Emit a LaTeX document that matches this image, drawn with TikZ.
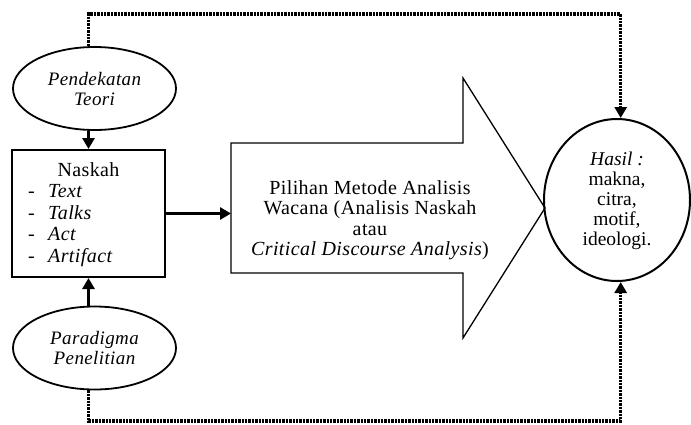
\documentclass[tikz,border=0pt]{standalone}
\usepackage{fontspec}
\setmainfont{Liberation Serif}
\newfontfamily\spaced[LetterSpace=2]{Liberation Serif}
\newfontfamily\spacedit[LetterSpace=2]{Liberation Serif}
\usetikzlibrary{arrows.meta,shapes.geometric}
\begin{document}
\begin{tikzpicture}[x=1pt,y=-1pt,
  ell/.style={draw, ellipse, line width=1.8pt, minimum width=163pt, minimum height=83pt, inner sep=0pt,
    align=center, font=\fontsize{19}{20}\spacedit\itshape},
  boxst/.style={draw, rectangle, line width=2pt, minimum width=153pt, minimum height=127pt, inner sep=0pt},
  txt/.style={inner sep=0pt, font=\fontsize{20}{20.5}\spaced},
  arr/.style={line width=3pt, -{Triangle[length=11pt,width=12pt]}},
  dotarr/.style={line width=3.4pt, dash pattern=on 2.4pt off 1pt, -{Triangle[length=11pt,width=12pt]}},
  bigarrow/.style={draw, line width=1.3pt}
]
\useasboundingbox (0,0) rectangle (691,424);

% left column
\node[ell] (pt) at (94.5,88.5) {Pendekatan\\Teori};
\node[boxst] (nb) at (88.5,213.5) {};
\node[ell] (pp) at (94.5,348) {Paradigma\\Penelitian};

% box text
\node[txt, anchor=base] (tn) at (88.5,176) {Naskah};
\node[txt, anchor=base west] (d1) at (28,197.5) {-};
\node[txt, anchor=base west] (d2) at (28,219) {-};
\node[txt, anchor=base west] (d3) at (28,240.5) {-};
\node[txt, anchor=base west] (d4) at (28,262) {-};
\node[txt, anchor=base west] (i1) at (48,197.5) {\itshape Text};
\node[txt, anchor=base west] (i2) at (48,219) {\itshape Talks};
\node[txt, anchor=base west] (i3) at (48,240.5) {\itshape Act};
\node[txt, anchor=base west] (i4) at (48,262) {\itshape Artifact};

% big arrow
\coordinate (bl) at (231,208);
\draw[bigarrow] (231,143) -- (463,143) -- (463,78) -- (545,208) -- (463,338) -- (463,273) -- (231,273) -- cycle;
\node[txt, align=center] (meth) at (370,220) {Pilihan Metode Analisis\\Wacana (Analisis Naskah\\atau\\\textit{Critical Discourse Analysis})};

% result circle
\node[draw, ellipse, line width=2pt, minimum width=146pt, minimum height=162pt, inner sep=0pt] (hs) at (617,200) {};
\node[align=center, inner sep=0pt, font=\fontsize{19.5}{20}\selectfont] (hst) at (617,201) {\textit{Hasil :}\\makna,\\citra,\\motif,\\ideologi.};

% connectors
\draw[arr] (pt.south -| nb.north) -- (nb.north);
\draw[arr] (pp.north -| nb.south) -- (nb.south);
\draw[arr] (nb.east) -- (nb.east -| bl);

\coordinate (tr) at (620.7,14);
\coordinate (br) at (620.7,421);
\draw[dotarr] (pt.north -| nb.north) |- (tr) -- (tr |- hs.north);
\draw[dotarr] (pp.south -| nb.south) |- (br) -- (br |- hs.south);
\end{tikzpicture}
\end{document}
